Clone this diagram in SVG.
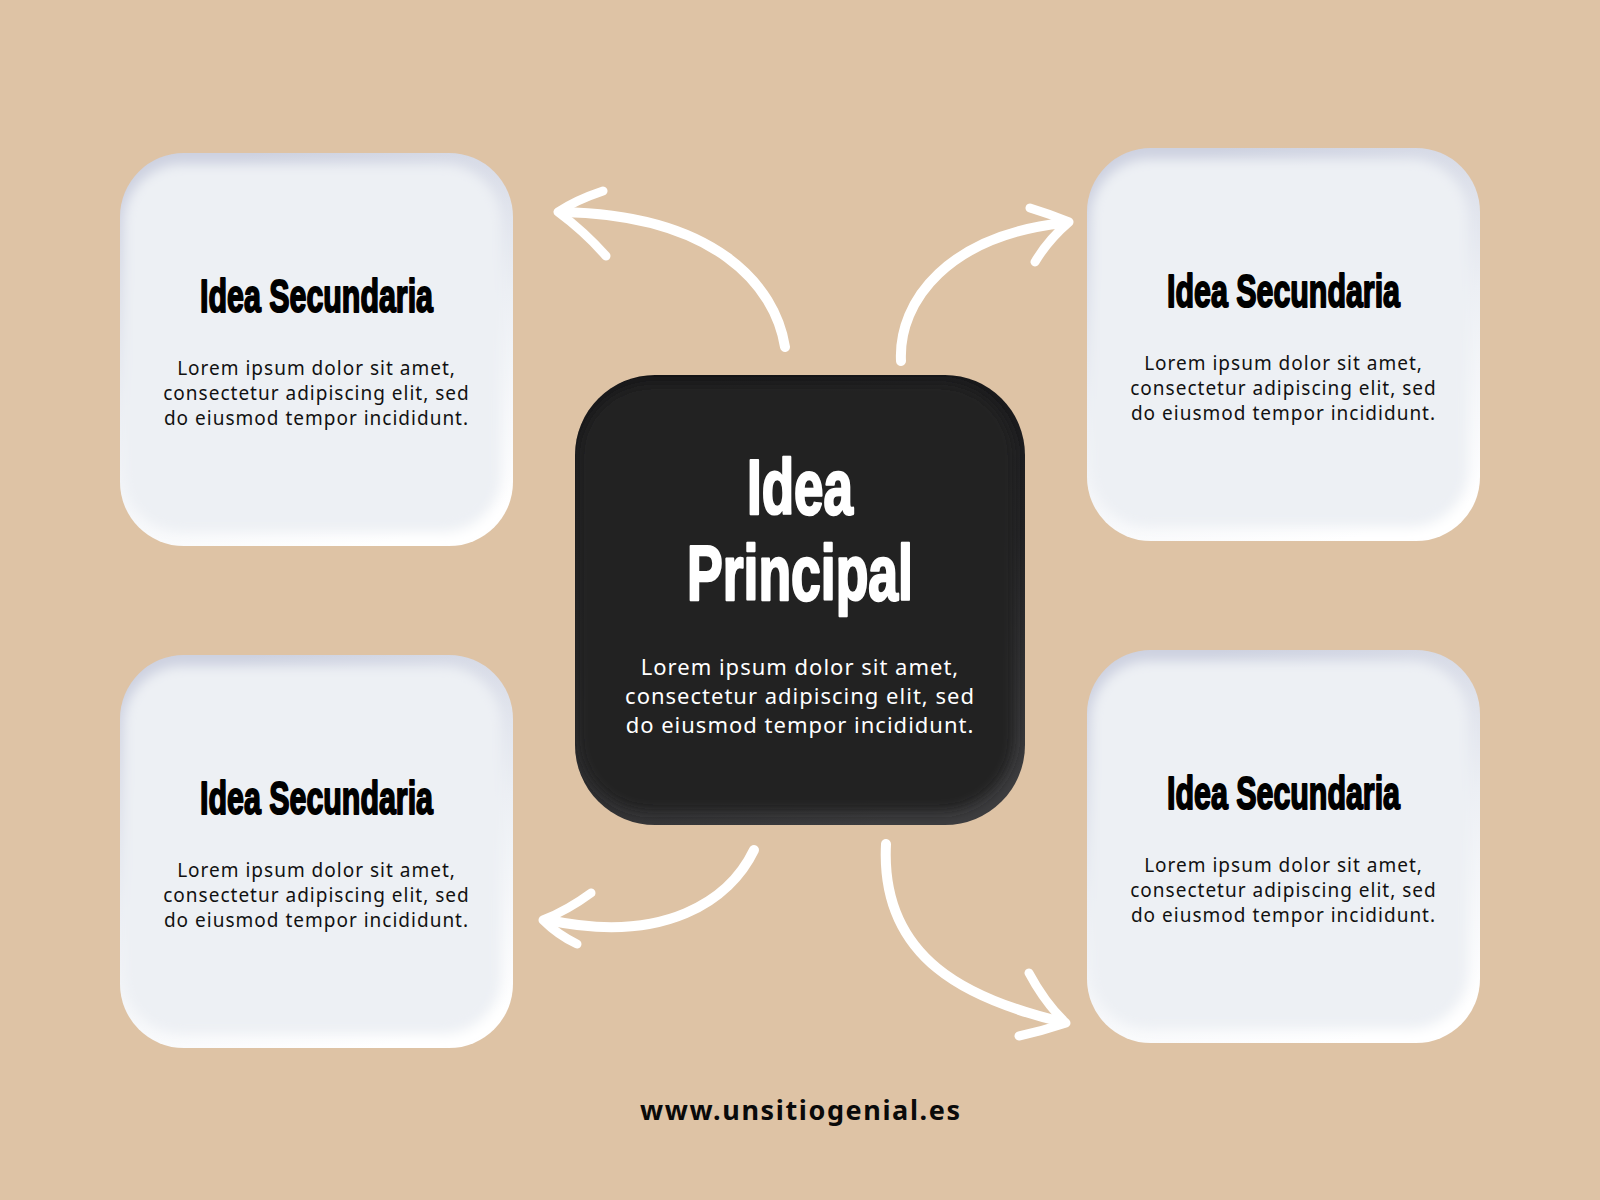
<svg xmlns="http://www.w3.org/2000/svg" xmlns:xlink="http://www.w3.org/1999/xlink" width="1600" height="1200" viewBox="0 0 1600 1200">
  <defs>
    <linearGradient id="gCard" x1="0.35" y1="0" x2="0.65" y2="1">
      <stop offset="0" stop-color="#cdd1e0"/>
      <stop offset="0.5" stop-color="#eceff4"/>
      <stop offset="1" stop-color="#ffffff"/>
    </linearGradient>
    <linearGradient id="gMain" x1="0.35" y1="0" x2="0.65" y2="1">
      <stop offset="0" stop-color="#161618"/>
      <stop offset="0.5" stop-color="#222224"/>
      <stop offset="1" stop-color="#3c3c3e"/>
    </linearGradient>
    <filter id="soft" x="-10%" y="-10%" width="120%" height="120%">
      <feGaussianBlur stdDeviation="6"/>
    </filter>
    <clipPath id="clipCard"><rect width="393" height="393" rx="64"/></clipPath>
    <clipPath id="clipMain"><rect width="450" height="450" rx="80"/></clipPath>
    <g id="card">
      <rect width="393" height="393" rx="64" fill="url(#gCard)"/>
      <g clip-path="url(#clipCard)">
        <rect x="4" y="11" width="377" height="368" rx="58" fill="#edf0f4" filter="url(#soft)"/>
      </g>
    </g>
    <g id="mainCard">
      <rect width="450" height="450" rx="80" fill="url(#gMain)"/>
      <g clip-path="url(#clipMain)">
        <rect x="3" y="8" width="436" height="428" rx="74" fill="#222224" filter="url(#soft)"/>
      </g>
    </g>
  </defs>
  <style>
    .title { font-family: "Liberation Sans Narrow", "Liberation Sans", "DejaVu Sans Condensed", sans-serif; font-weight: bold; font-size: 47px; fill: #000; stroke: #000; stroke-width: 2; stroke-linejoin: round; text-anchor: middle; }
    .mtitle { font-family: "Liberation Sans Narrow", "Liberation Sans", "DejaVu Sans Condensed", sans-serif; font-weight: bold; font-size: 77px; fill: #fff; stroke: #fff; stroke-width: 2.6; stroke-linejoin: round; text-anchor: middle; }
    .body { font-family: "Noto Sans", "Open Sans", sans-serif; font-size: 19px; letter-spacing: 1px; fill: #111; text-anchor: middle; }
    .mbody { font-family: "Noto Sans", "Open Sans", sans-serif; font-size: 22px; letter-spacing: 1px; fill: #fff; text-anchor: middle; }
    .foot { font-family: "Noto Sans", "Open Sans", sans-serif; font-weight: bold; font-size: 27px; fill: #0a0a0a; text-anchor: middle; }
    .shaft { fill: none; stroke: #fff; stroke-width: 10; stroke-linecap: round; }
    .head { fill: none; stroke: #fff; stroke-width: 9; stroke-linecap: round; stroke-linejoin: round; }
  </style>
  <rect width="1600" height="1200" fill="#dec3a5"/>

  <g id="connectors">
    <g id="arrow-tl">
      <path class="shaft" d="M785 347 C 775 285, 715 215, 562 212"/>
      <path class="head" d="M603 191 Q 576 200 558 212 Q 585 232 606 256"/>
    </g>
    <g id="arrow-tr">
      <path class="shaft" d="M901 361 C 898 300, 950 235, 1064 223"/>
      <path class="head" d="M1030 208 Q 1050 214 1069 222 Q 1048 240 1035 262"/>
    </g>
    <g id="arrow-bl">
      <path class="shaft" d="M754 850 C 730 900, 665 945, 548 920"/>
      <path class="head" d="M591 893 Q 568 910 543 920 Q 558 935 577 944"/>
    </g>
    <g id="arrow-br">
      <path class="shaft" d="M886 844 C 880 960, 970 1000, 1062 1022"/>
      <path class="head" d="M1029 973 Q 1045 1003 1066 1023 Q 1042 1031 1019 1036"/>
    </g>
  </g>

  <g id="node-main">
    <use xlink:href="#mainCard" href="#mainCard" x="575" y="375"/>
    <text class="mtitle" x="800" y="514" textLength="106" lengthAdjust="spacingAndGlyphs">Idea</text>
    <text class="mtitle" x="800" y="600" textLength="226" lengthAdjust="spacingAndGlyphs">Principal</text>
    <text class="mbody" x="800" y="675">Lorem ipsum dolor sit amet,</text>
    <text class="mbody" x="800" y="704">consectetur adipiscing elit, sed</text>
    <text class="mbody" x="800" y="733">do eiusmod tempor incididunt.</text>
  </g>

  <g id="node-tl">
    <use xlink:href="#card" href="#card" x="120" y="153"/>
    <text class="title" x="316.5" y="312" textLength="233" lengthAdjust="spacingAndGlyphs">Idea Secundaria</text>
    <text class="body" x="316.5" y="375">Lorem ipsum dolor sit amet,</text>
    <text class="body" x="316.5" y="400">consectetur adipiscing elit, sed</text>
    <text class="body" x="316.5" y="425">do eiusmod tempor incididunt.</text>
  </g>

  <g id="node-tr">
    <use xlink:href="#card" href="#card" x="1087" y="148"/>
    <text class="title" x="1283.5" y="307" textLength="233" lengthAdjust="spacingAndGlyphs">Idea Secundaria</text>
    <text class="body" x="1283.5" y="370">Lorem ipsum dolor sit amet,</text>
    <text class="body" x="1283.5" y="395">consectetur adipiscing elit, sed</text>
    <text class="body" x="1283.5" y="420">do eiusmod tempor incididunt.</text>
  </g>

  <g id="node-bl">
    <use xlink:href="#card" href="#card" x="120" y="655"/>
    <text class="title" x="316.5" y="814" textLength="233" lengthAdjust="spacingAndGlyphs">Idea Secundaria</text>
    <text class="body" x="316.5" y="877">Lorem ipsum dolor sit amet,</text>
    <text class="body" x="316.5" y="902">consectetur adipiscing elit, sed</text>
    <text class="body" x="316.5" y="927">do eiusmod tempor incididunt.</text>
  </g>

  <g id="node-br">
    <use xlink:href="#card" href="#card" x="1087" y="650"/>
    <text class="title" x="1283.5" y="809" textLength="233" lengthAdjust="spacingAndGlyphs">Idea Secundaria</text>
    <text class="body" x="1283.5" y="872">Lorem ipsum dolor sit amet,</text>
    <text class="body" x="1283.5" y="897">consectetur adipiscing elit, sed</text>
    <text class="body" x="1283.5" y="922">do eiusmod tempor incididunt.</text>
  </g>

  <text id="footer" class="foot" x="800" y="1120" textLength="320" lengthAdjust="spacing">www.unsitiogenial.es</text>
</svg>
